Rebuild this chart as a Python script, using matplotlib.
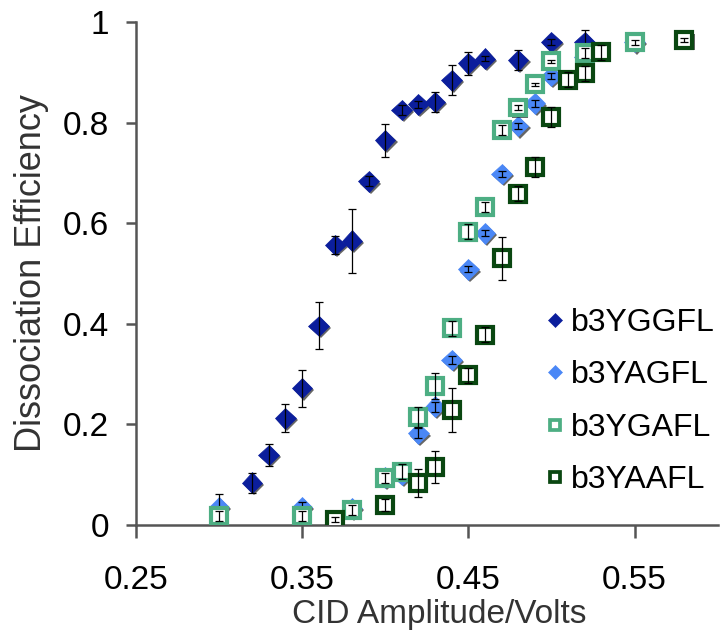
import matplotlib
matplotlib.use('Agg')
import matplotlib.pyplot as plt
import matplotlib.patheffects as pe

plt.rcParams['font.family'] = ['Liberation Sans', 'DejaVu Sans']

# b3YGGFL (dark blue diamonds)
x_yggfl = [0.32, 0.33, 0.34, 0.35, 0.36, 0.37, 0.38, 0.39, 0.40, 0.41, 0.42, 0.43, 0.44, 0.45, 0.46, 0.48, 0.50, 0.52]
y_yggfl = [0.084, 0.139, 0.212, 0.272, 0.396, 0.557, 0.565, 0.683, 0.765, 0.825, 0.836, 0.841, 0.884, 0.918, 0.927, 0.924, 0.960, 0.960]
e_yggfl = [0.020, 0.022, 0.028, 0.037, 0.047, 0.018, 0.064, 0.010, 0.033, 0.010, 0.006, 0.020, 0.030, 0.023, 0.005, 0.020, 0.006, 0.025]

# b3YAGFL (light blue diamonds)
x_yagfl = [0.30, 0.35, 0.38, 0.40, 0.41, 0.42, 0.43, 0.44, 0.45, 0.46, 0.47, 0.48, 0.49, 0.50, 0.52, 0.55]
y_yagfl = [0.035, 0.035, 0.033, 0.095, 0.100, 0.182, 0.235, 0.328, 0.508, 0.580, 0.698, 0.793, 0.838, 0.893, 0.931, 0.960]
e_yagfl = [0.027, 0.010, 0.010, 0.010, 0.010, 0.010, 0.010, 0.008, 0.006, 0.006, 0.006, 0.006, 0.006, 0.006, 0.006, 0.006]

# b3YGAFL (light green squares)
x_ygafl = [0.30, 0.35, 0.38, 0.40, 0.41, 0.42, 0.43, 0.44, 0.45, 0.46, 0.47, 0.48, 0.49, 0.50, 0.52, 0.55]
y_ygafl = [0.017, 0.017, 0.030, 0.093, 0.106, 0.215, 0.276, 0.391, 0.583, 0.633, 0.785, 0.830, 0.876, 0.922, 0.938, 0.960]
e_ygafl = [0.010, 0.010, 0.010, 0.010, 0.015, 0.020, 0.026, 0.015, 0.015, 0.010, 0.010, 0.005, 0.003, 0.003, 0.010, 0.005]

# b3YAAFL (dark green squares)
x_yaafl = [0.37, 0.40, 0.42, 0.43, 0.44, 0.45, 0.46, 0.47, 0.48, 0.49, 0.50, 0.51, 0.52, 0.53, 0.58]
y_yaafl = [0.010, 0.040, 0.083, 0.116, 0.229, 0.298, 0.378, 0.530, 0.659, 0.712, 0.812, 0.885, 0.898, 0.940, 0.964]
e_yaafl = [0.005, 0.012, 0.028, 0.032, 0.044, 0.015, 0.015, 0.043, 0.015, 0.020, 0.020, 0.015, 0.015, 0.015, 0.004]

xticks = [0.25, 0.35, 0.45, 0.55]
xtick_labels = ['0.25', '0.35', '0.45', '0.55']
yticks = [0, 0.2, 0.4, 0.6, 0.8, 1.0]
ytick_labels = ['0', '0.2', '0.4', '0.6', '0.8', '1']

fig = plt.figure(figsize=(7.21, 6.36), dpi=100)
ax = fig.add_axes([135.7 / 721, 111 / 636, 582 / 721, 503 / 636])

shadow = [pe.SimplePatchShadow(offset=(1.5, -1.5), shadow_rgbFace='k', alpha=0.6), pe.Normal()]

series = [
    (x_yggfl, y_yggfl, e_yggfl, 'b3YGGFL', 'D', '#0B1E9C', '#0B1E9C', 10.5, 0.5),
    (x_yagfl, y_yagfl, e_yagfl, 'b3YAGFL', 'D', '#4A87F6', '#4A87F6', 10.5, 0.5),
    (x_ygafl, y_ygafl, e_ygafl, 'b3YGAFL', 's', 'white', '#4DAE83', 11.5, 3.0),
    (x_yaafl, y_yaafl, e_yaafl, 'b3YAAFL', 's', 'white', '#0A4711', 11.5, 3.0),
]

for i, (xs, ys, es, lab, mk, fc, ec, ms, mew) in enumerate(series):
    ax.plot(xs, ys, linestyle='none', marker=mk, markersize=ms,
            markerfacecolor=fc, markeredgecolor=ec, markeredgewidth=mew,
            label=lab, zorder=3 + 2 * i, path_effects=shadow)
    ax.errorbar(xs, ys, yerr=es, fmt='none', ecolor='black', elinewidth=0.9,
                capsize=3, capthick=0.9, zorder=4 + 2 * i)

ax.set_xlim(0.25, 0.6)
ax.set_ylim(0, 1)
ax.set_xticks(xticks)
ax.set_xticklabels(xtick_labels)
ax.set_yticks(yticks)
ax.set_yticklabels(ytick_labels)

for s in ['top', 'right']:
    ax.spines[s].set_visible(False)
for s in ['left', 'bottom']:
    ax.spines[s].set_color('#555555')
    ax.spines[s].set_linewidth(1.8)
ax.tick_params(axis='both', colors='#555555', labelcolor='black', width=1.8, labelsize=24, direction='out')
ax.tick_params(axis='y', length=7, pad=12)
ax.tick_params(axis='x', length=9, pad=20)

ax.set_xlabel('CID Amplitude/Volts', fontsize=24, color='#333333', labelpad=2)
ax.xaxis.label.set_x(0.522)
ax.set_ylabel('Dissociation Efficiency', fontsize=26, color='#333333', labelpad=10)

leg_handles = []
for (xs, ys, es, lab, mk, fc, ec, ms, mew) in series:
    leg_handles.append(plt.Line2D([], [], linestyle='none', marker=mk,
                                  markersize=ms * 0.65, markerfacecolor=fc,
                                  markeredgecolor=ec, markeredgewidth=mew * 0.9))
ax.legend(leg_handles, [s[3] for s in series], loc='upper left',
          bbox_to_anchor=(529 / 721, 344 / 636), bbox_transform=fig.transFigure,
          frameon=False, fontsize=23, handlelength=0.6, handletextpad=0.2,
          labelspacing=0.7, borderpad=0)

fig.savefig('out.png', dpi=100)
